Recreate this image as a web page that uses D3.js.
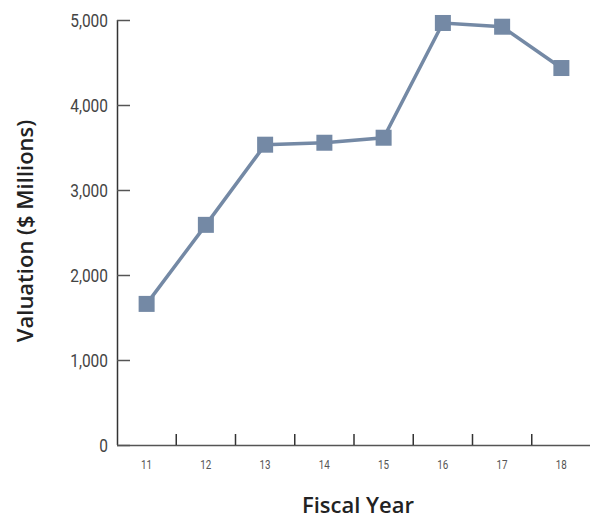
<!DOCTYPE html>
<html><head><meta charset="utf-8">
<script src="https://cdn.jsdelivr.net/npm/d3@7"></script>
<style>
body{margin:0;background:#fff;}
svg{display:block;}
</style></head>
<body><svg id="c" width="590" height="519"></svg>
<script>
const years = ["11","12","13","14","15","16","17","18"];
const valuations = [1660, 2590, 3533, 3556, 3615, 4965, 4921, 4435];
const yTicks = [0, 1000, 2000, 3000, 4000, 5000];

const svg = d3.select("#c");
const x = d3.scaleBand().domain(years).range([117, 591]);
const y = d3.scaleLinear().domain([0, 5000]).range([445, 20]);
const tickFont = "Roboto, sans-serif";
const axisColor = "#333";

// y axis
const ya = svg.append("g").attr("transform","translate(117,0)")
  .call(d3.axisLeft(y).tickValues(yTicks).tickFormat(d3.format(",")).tickSize(-13).tickPadding(10));
ya.select(".domain").attr("stroke", axisColor).attr("stroke-width",1.5).attr("d","M0.5,20V445");
ya.selectAll(".tick line").attr("stroke","#555").attr("stroke-width",1.5);
ya.selectAll(".tick text").attr("font-family",tickFont).attr("font-size",18).attr("fill","#444")
  .attr("x",null).attr("dy","0.36em").attr("transform","translate(-9,0) scale(0.86,1)");

// x axis
const xa = svg.append("g").attr("transform","translate(0,445)")
  .call(d3.axisBottom(x).tickSize(0).tickPadding(0));
xa.select(".domain").attr("stroke","#555").attr("stroke-width",1.5).attr("d","M117,0.5H591");
xa.selectAll(".tick text").attr("font-family",tickFont).attr("font-size",12).attr("fill","#555")
  .attr("y",null).attr("dy","0.36em").attr("transform","translate(0,20) scale(0.82,1)");
// boundary ticks between bands
svg.append("g").selectAll("line").data(years.slice(1)).join("line")
  .attr("x1", d => x(d)).attr("x2", d => x(d))
  .attr("y1", 445).attr("y2", 434)
  .attr("stroke", "#333").attr("stroke-width", 1.5);

// line
const cx = d => x(d) + x.bandwidth()/2;
const pts = years.map((d,i)=>({k:d,v:valuations[i]}));
svg.append("path").datum(pts)
  .attr("d", d3.line().x(d=>cx(d.k)).y(d=>y(d.v)))
  .attr("fill","none").attr("stroke","#7489a5").attr("stroke-width",3.5);
svg.append("g").selectAll("rect").data(pts).join("rect")
  .attr("x", d=>cx(d.k)-8).attr("y", d=>y(d.v)-8)
  .attr("width",16).attr("height",16).attr("fill","#7489a5");

// titles
svg.append("text").attr("transform","translate(33,231) rotate(-90)")
  .attr("text-anchor","middle").attr("font-family","'Open Sans','Noto Sans',sans-serif")
  .attr("font-size",22).attr("font-weight",600).attr("fill","#222").text("Valuation ($ Millions)");
svg.append("text").attr("x",358).attr("y",513)
  .attr("text-anchor","middle").attr("font-family","'Open Sans','Noto Sans',sans-serif")
  .attr("font-size",22).attr("font-weight",600).attr("fill","#222").text("Fiscal Year");
</script></body></html>
